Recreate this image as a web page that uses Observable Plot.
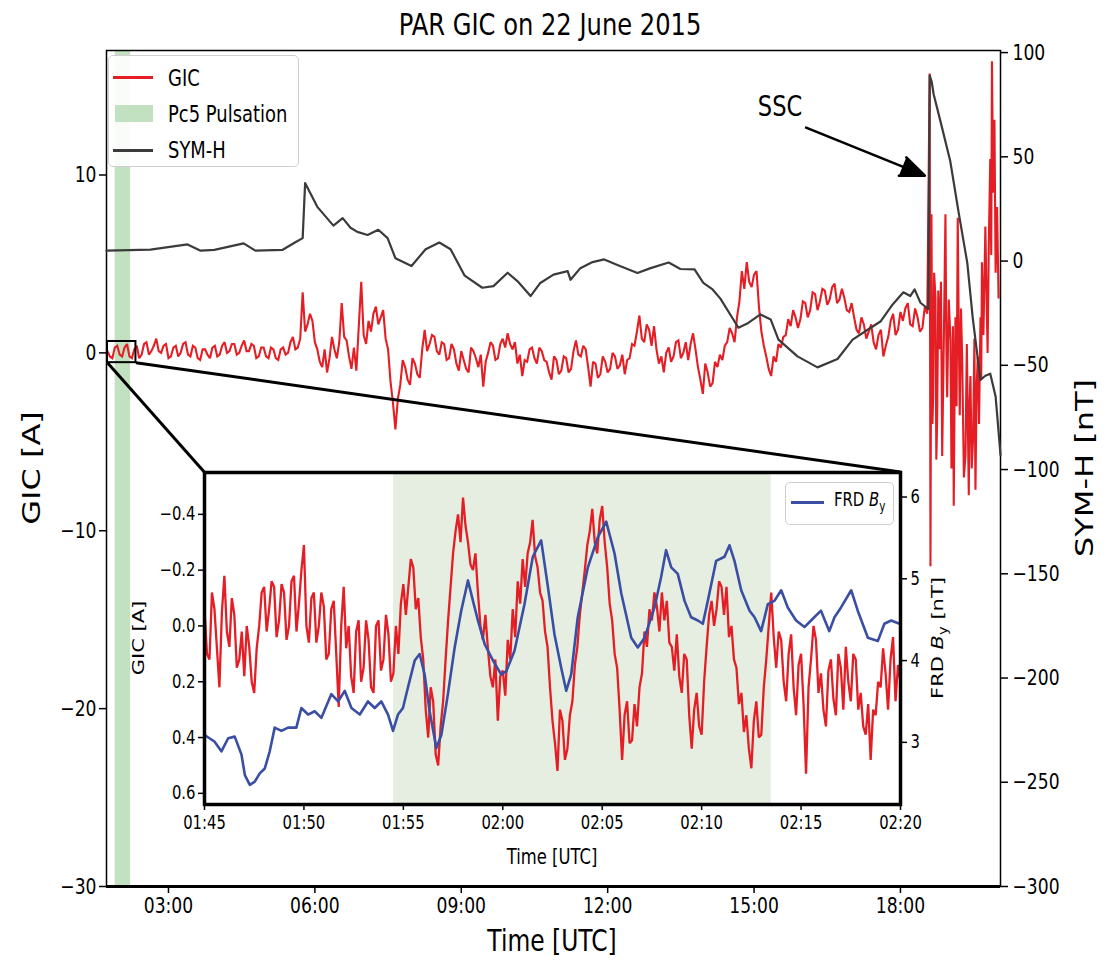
<!DOCTYPE html>
<html><head><meta charset="utf-8">
<script src="https://cdn.jsdelivr.net/npm/d3@7"></script>
<script src="https://cdn.jsdelivr.net/npm/@observablehq/plot@0.6"></script>
<style>
body{margin:0;background:#fff;font-family:"DejaVu Sans",sans-serif;}
#wrap{position:relative;width:1115px;height:962px;overflow:hidden;background:#fff;}
#wrap svg{position:absolute;}
.lbl{position:absolute;white-space:nowrap;color:#000;line-height:1;}
.box{position:absolute;background:rgba(255,255,255,0.9);border:1px solid #cfcfcf;border-radius:5px;}
.sw{position:absolute;}
</style></head><body><div id="wrap"></div>
<script>
// ---------------- DATA ----------------
// Main panel: GIC [A], sampled every 0.05 h from 01:45 to 18:33
const gicStartHour = 1.75;
const gicStepHour = 0.05;
const gicValues = [
  0.1,-0.2,-0.3,0.3,0.4,-0.1,-0.2,0.3,0.5,-0.2,-0.3,0.2,0.4,-0.3,-0.1,0.5,0.6,-0.1,0.1,0.4,
  0.8,0.1,0.0,0.4,0.5,-0.3,-0.2,0.3,0.4,-0.2,0.0,0.5,0.6,-0.1,-0.2,0.4,0.3,-0.3,-0.4,0.2,
  0.2,-0.1,-0.3,0.3,0.4,-0.2,-0.1,0.4,0.6,0.0,0.1,0.5,0.5,-0.1,0.0,0.4,0.7,0.1,0.1,0.5,
  0.4,-0.3,-0.2,0.3,0.3,-0.2,-0.3,0.3,0.2,-0.3,-0.4,0.2,0.3,-0.1,0.0,0.6,0.9,0.2,0.3,0.8,
  3.4,1.2,1.6,2.2,1.8,0.6,0.2,-0.5,-0.8,0.2,-1.1,-0.3,0.9,0.2,-0.3,0.6,2.8,0.9,0.7,-0.2,
  -0.9,0.3,-1.0,1.5,4.0,1.0,0.5,1.8,1.2,2.2,2.6,1.6,2.0,2.4,0.8,0.2,-1.6,-2.8,-4.3,-2.6,
  -1.8,-0.4,-0.8,-1.5,-1.8,-0.3,-0.6,-1.2,-1.4,0.2,1.3,0.1,0.5,1.0,0.9,0.1,-0.1,0.6,0.5,-0.4,
  -0.3,0.5,0.2,-0.6,-1.0,0.1,-0.4,-0.9,-1.1,0.3,0.1,-0.3,-0.8,-0.1,-1.9,-0.5,0.0,0.6,0.4,-0.4,
  -0.3,0.5,0.8,0.3,1.1,0.5,0.2,0.6,-0.6,-0.1,-1.3,-0.4,-0.5,0.2,0.3,-0.3,-0.6,0.3,0.1,-0.4,
  -0.5,-1.1,-1.5,-0.2,-0.4,-1.2,-1.0,-0.2,-0.3,-1.1,-0.9,0.1,0.7,-0.1,-0.2,0.4,0.2,-0.8,-1.9,-0.5,
  -0.6,-1.4,-1.2,-0.2,-0.5,-1.1,-0.9,0.0,-0.2,-0.9,-0.7,-0.1,-1.2,-0.4,-0.3,0.5,0.4,1.2,2.1,0.8,
  0.6,1.6,1.3,0.4,1.5,0.2,-0.6,-0.2,-1.1,0.0,0.3,-0.5,-0.2,0.6,0.7,-0.3,0.0,0.6,-0.4,0.5,
  1.1,0.2,-0.8,-1.5,-2.3,-0.6,-1.1,-1.9,-1.7,-0.5,-0.8,-0.1,-0.4,0.4,0.6,1.4,1.1,0.6,2.0,2.9,
  4.6,3.6,5.1,4.0,3.7,4.4,4.6,2.6,1.2,0.4,-0.2,-0.9,-1.3,-0.2,-0.5,0.5,0.3,0.9,1.0,1.9,
  1.5,2.4,2.0,1.4,1.9,2.9,2.8,2.0,2.4,3.4,3.3,2.4,2.9,3.6,3.5,2.7,3.0,3.7,3.9,2.8,
  3.0,3.6,3.1,2.4,2.3,2.8,2.0,1.3,1.1,2.0,1.6,0.8,1.2,1.6,0.6,0.2,1.0,1.3,-0.2,0.4,
  0.9,1.8,2.2,1.0,1.3,2.3,1.8,2.5,2.8,1.6,1.5,2.5,2.0,1.2,1.4,2.6,2.2
];
// Storm (after SSC) GIC, hours and A
const stormHours = [18.598,18.615,18.635,18.655,18.67,18.69,18.717,18.735,18.752,18.775,18.80,18.83,18.855,18.89,18.922,18.94,18.957,18.99,19.025,19.045,19.06,19.075,19.092,19.11,19.127,19.15,19.174,19.195,19.215,19.24,19.264,19.30,19.332,19.36,19.40,19.415,19.434,19.46,19.49,19.515,19.537,19.56,19.584,19.61,19.64,19.655,19.67,19.70,19.74,19.765,19.786,19.81,19.84,19.86,19.875,19.90,19.926,19.95,19.98,20.01];
const stormGic   = [15.7,-12.0,7.8,-4.0,-2.5,4.5,3.1,-6.0,-3.8,3.5,0.2,4.0,-5.8,1.0,7.8,0.5,-2.5,3.0,0.7,-6.5,-4.7,1.5,-8.6,-2.0,2.0,-3.0,7.6,1.0,-3.5,2.5,-0.2,-7.0,-5.8,0.5,-8.0,-3.0,-1.3,-6.5,-4.7,0.8,-7.7,-2.0,-0.2,-4.0,2.0,-1.5,5.1,1.0,7.1,3.0,0.0,6.0,10.9,5.5,16.4,9.0,13.1,4.5,8.2,3.1];
// SYM-H [nT]
const symhHours = [1.73,2.63,3.39,3.66,3.94,4.54,4.78,5.34,5.60,5.75,5.80,6.05,6.38,6.57,6.73,6.87,7.08,7.30,7.49,7.65,7.98,8.27,8.55,8.78,9.07,9.43,9.66,9.95,10.15,10.42,10.62,10.89,11.18,11.24,11.44,11.69,11.93,12.20,12.61,12.88,13.25,13.49,13.78,13.96,14.15,14.31,14.68,14.86,15.13,15.34,15.50,15.89,16.30,16.71,17.02,17.39,17.59,17.84,18.06,18.20,18.29,18.41,18.57,18.60,18.64,18.68,18.82,19.02,19.19,19.37,19.48,19.58,19.64,19.74,19.84,19.95,20.05];
const symhValues = [5,5.5,8,5,5.4,8.5,5,5.4,9,11,37.4,26,17,20.6,16,14,12.5,15,11,1.4,-2.4,5.7,8.9,5.7,-7,-12.8,-12,-5.6,-9.6,-16.8,-10.5,-6.5,-4.8,-9,-3.4,-0.5,0.8,-1.9,-5.7,-3.4,-0.7,-3.8,-4,-10.5,-13.6,-18,-32,-30,-25.6,-28,-37.7,-45.7,-51,-47,-37.7,-32,-29,-20.8,-15,-16.8,-13.6,-20,-23,89,86,80,67,48,23.6,-1,-27,-46,-57,-55,-54,-65,-93];
// Inset: GIC [A] every 0.125 min from 01:45
const insetStepMin = 0.125;
const insetGic = [
  -0.06,0.10,0.12,-0.12,-0.06,0.08,0.22,-0.05,-0.18,0.02,0.075,-0.10,-0.04,0.15,0.12,0.02,0.18,0.0,0.075,0.2,
  0.24,0.08,0.0,-0.12,-0.14,0.02,-0.06,-0.16,-0.14,0.04,-0.02,-0.15,-0.12,0.05,0.0,-0.16,-0.18,0.02,-0.08,-0.2,
  -0.29,0.0,0.06,-0.1,-0.12,0.06,0.0,-0.12,-0.07,0.12,0.1,-0.06,-0.09,0.1,0.29,0.0,-0.14,0.08,0.0,0.18,
  0.24,0.02,-0.02,0.2,0.15,-0.02,0.05,0.22,0.24,0.0,-0.02,0.16,0.12,-0.04,0.03,0.2,0.17,0.0,0.1,-0.08,
  -0.15,-0.04,-0.14,-0.24,-0.21,-0.06,-0.1,0.04,0.12,0.30,0.40,0.22,0.27,0.46,0.50,0.36,0.27,0.12,-0.02,-0.14,
  -0.26,-0.34,-0.40,-0.30,-0.46,-0.36,-0.30,-0.22,-0.20,-0.26,-0.12,0.0,0.05,-0.04,0.08,0.18,0.22,0.12,0.34,0.18,
  0.16,0.25,0.05,0.12,-0.06,0.04,-0.16,-0.08,-0.24,-0.14,-0.26,-0.30,-0.38,-0.25,-0.21,-0.12,-0.09,0.02,0.075,0.22,
  0.34,0.42,0.52,0.30,0.34,0.48,0.44,0.32,0.27,0.14,0.075,-0.04,-0.12,-0.2,-0.29,-0.34,-0.42,-0.30,-0.26,-0.38,
  -0.43,-0.30,-0.21,-0.08,-0.02,0.1,0.15,0.30,0.48,0.32,0.27,0.42,0.41,0.28,0.36,0.22,0.17,0.02,0.075,-0.06,
  -0.02,-0.12,-0.07,0.02,-0.12,-0.02,-0.09,0.06,0.075,0.16,0.03,0.18,0.24,0.10,0.12,0.32,0.44,0.30,0.24,0.36,
  0.39,0.20,0.075,-0.04,-0.09,0.0,-0.06,-0.16,-0.14,-0.04,-0.14,0.04,0.0,0.12,0.15,0.28,0.24,0.38,0.32,0.44,
  0.51,0.34,0.27,0.40,0.39,0.22,0.12,0.0,-0.12,0.04,0.15,0.02,0.05,0.20,0.27,0.10,0.03,0.22,0.32,0.14,
  0.1,0.28,0.53,0.22,0.12,0.0,0.05,0.24,0.17,0.30,0.36,0.16,0.12,0.26,0.32,0.10,0.15,0.30,0.075,0.20,
  0.27,0.10,0.12,0.30,0.24,0.36,0.39,0.28,0.48,0.30,0.32,0.20,0.22,0.08,0.17,0.30,0.12,0.04,0.27,0.14,
  0.2
];
// Inset: FRD By [nT], minutes after 01:45
const byMinutes = [0,0.5,0.85,1.19,1.52,1.86,2.03,2.28,2.53,2.78,3.03,3.28,3.53,3.87,4.20,4.62,4.87,5.21,5.54,5.88,6.38,6.72,7.05,7.39,7.81,8.22,8.56,8.89,9.23,9.48,9.73,9.98,10.23,10.57,10.82,11.07,11.32,11.66,11.91,12.24,12.58,12.91,13.25,13.50,13.75,14.09,14.51,14.92,15.18,15.59,16.09,16.51,16.93,17.27,17.60,17.94,18.19,18.44,18.77,19.28,19.78,20.20,20.62,20.96,21.46,21.79,22.13,22.63,22.96,23.21,23.47,23.80,24.14,24.47,24.81,25.06,25.31,25.73,26.15,26.40,26.65,26.99,27.41,27.66,27.99,28.33,28.66,29.00,29.33,29.75,30.17,30.50,31.00,31.42,31.68,32.01,32.52,32.85,33.36,33.86,34.19,34.53,34.95];
const byValues = [3.09,3.01,2.89,3.05,3.07,2.85,2.60,2.48,2.52,2.62,2.68,2.89,3.18,3.14,3.18,3.18,3.42,3.34,3.38,3.30,3.59,3.50,3.63,3.42,3.34,3.50,3.42,3.50,3.34,3.14,3.34,3.42,3.67,4.0,4.08,3.83,3.38,2.93,3.09,3.59,4.16,4.61,4.98,4.73,4.49,4.20,4.0,3.83,3.87,4.12,4.69,5.27,5.47,4.90,4.32,3.91,3.63,3.83,4.53,5.14,5.51,5.70,5.31,4.82,4.28,4.16,4.28,4.65,5.02,5.35,5.14,5.06,4.73,4.53,4.49,4.45,4.73,5.22,5.27,5.41,5.22,4.86,4.61,4.53,4.36,4.69,4.73,4.86,4.65,4.49,4.41,4.49,4.61,4.36,4.53,4.65,4.86,4.61,4.28,4.24,4.45,4.49,4.45];

const pc5Window = ["01:54:30", "02:13:30"];
const mainTimeDomain = ["01:43:48", "20:03:00"];
const gicDomain = [-30, 17];
const symDomain = [-300, 101];
const byDomain = [2.24, 6.30];
const zoomWindow = {start: "01:45", end: "02:20", gicLow: -0.55, gicHigh: 0.64};
const insetFrame = {t1: "03:44", t2: "18:00", gicTop: -6.7, gicBottom: -25.35}; // inset placement in main-panel coordinates
const gicTicks = [-30, -20, -10, 0, 10];
const symTicks = [-300, -250, -200, -150, -100, -50, 0, 50, 100];
const timeTicks = ["03:00", "06:00", "09:00", "12:00", "15:00", "18:00"];
const insetTimeTicks = ["01:45", "01:50", "01:55", "02:00", "02:05", "02:10", "02:15", "02:20"];
const insetGicTicks = [-0.4, -0.2, 0.0, 0.2, 0.4, 0.6];
const byTicks = [3, 4, 5, 6];
const ssc = {label: "SSC", textT: "15:32", textV: 74, fromT: "16:04", fromV: 64, toT: "18:30", toV: 41};

// ---------------- DRAW ----------------
const wrap = document.getElementById("wrap");
const day = Date.UTC(2015, 5, 22);
const toH = s => { const p = s.split(":").map(Number); return p[0] + p[1] / 60 + (p[2] || 0) / 3600; };
const T = h => new Date(day + Math.round(h * 3600e3));
const TS = s => T(toH(s));
const SQ = 0.78;

const gicSeries = gicValues.map((v, i) => ({t: T(gicStartHour + i * gicStepHour), v}))
  .concat(stormHours.map((h, i) => ({t: T(h), v: stormGic[i]})));
const symSeries = symhHours.map((h, i) => ({t: T(h), v: symhValues[i]}));
const insetStartH = toH(insetTimeTicks[0]);
const insetGicSeries = insetGic.map((v, i) => ({t: T(insetStartH + i * insetStepMin / 60), v}));
const bySeries = byMinutes.map((m, i) => ({t: T(insetStartH + m / 60), v: byValues[i]}));
const band = [{x1: TS(pc5Window[0]), x2: TS(pc5Window[1])}];
const connectors = [
  {x1: TS(zoomWindow.start), y1: zoomWindow.gicLow, x2: TS(insetFrame.t1), y2: insetFrame.gicTop},
  {x1: TS(zoomWindow.end), y1: zoomWindow.gicLow, x2: TS(insetFrame.t2), y2: insetFrame.gicTop}
];

const W = 1115, H = 962;
const font = "'DejaVu Sans', sans-serif";
const base = {width: W, height: H, marginTop: 50, marginRight: 115, marginBottom: 76, marginLeft: 106,
  style: {fontFamily: font, fontSize: "22px", background: "transparent", overflow: "visible", left: "0px", top: "0px", maxWidth: "none"}};
const fmtTime = d3.utcFormat("%H:%M");
const mainDomain = mainTimeDomain.map(TS);

const main = Plot.plot({...base, x: {type: "utc", domain: mainDomain}, y: {domain: gicDomain},
  marks: [
    Plot.rect(band, {x1: "x1", x2: "x2", fill: "#c2e1c1"}),
    Plot.line(gicSeries, {x: "t", y: "v", stroke: "#e41e24", strokeWidth: 2.1, strokeLinejoin: "miter", strokeMiterlimit: 2}),
    Plot.rect([zoomWindow], {x1: d => TS(d.start), x2: d => TS(d.end), y1: "gicLow", y2: "gicHigh", fill: "none", stroke: "black", strokeWidth: 2}),
    Plot.link(connectors, {x1: "x1", y1: "y1", x2: "x2", y2: "y2", stroke: "black", strokeWidth: 3}),
    Plot.frame({stroke: "black", strokeWidth: 1.5}),
    Plot.ruleY([gicDomain[0]], {stroke: "black", strokeWidth: 3}),
    Plot.axisY({ticks: gicTicks, tickFormat: d3.format("d"), tickSize: 7, tickPadding: 3, label: null, fontSize: 22, strokeWidth: 1.5}),
    Plot.axisX({ticks: timeTicks.map(TS), tickFormat: fmtTime, tickSize: 7, tickPadding: 4, label: null, fontSize: 22, strokeWidth: 1.5})
  ]});
wrap.appendChild(main);

const sym = Plot.plot({...base, x: {type: "utc", domain: mainDomain, axis: null}, y: {domain: symDomain},
  marks: [
    Plot.line(symSeries, {x: "t", y: "v", stroke: "#3b3b3b", strokeWidth: 2.2}),
    Plot.axisY({anchor: "right", ticks: symTicks, tickFormat: d3.format("d"), tickSize: 7, tickPadding: 5, label: null, fontSize: 22, strokeWidth: 1.5}),
    Plot.arrow([ssc], {x1: d => TS(d.fromT), y1: "fromV", x2: d => TS(d.toT), y2: "toV", stroke: "black", fill: "black", strokeWidth: 2.6, headLength: 15, headAngle: 45}),
    Plot.text([ssc], {x: d => TS(d.textT), y: "textV", text: "label", fontSize: 29})
  ]});
wrap.appendChild(sym);

// inset placed from the main panel's scales
const sx = main.scale("x"), sy = main.scale("y");
const iL = sx.apply(TS(insetFrame.t1)), iR = sx.apply(TS(insetFrame.t2));
const iT = sy.apply(insetFrame.gicTop), iB = sy.apply(insetFrame.gicBottom);
const IM = {top: 14, right: 90, bottom: 80, left: 90};
const ibase = {
  width: Math.round(iR - iL + IM.left + IM.right), height: Math.round(iB - iT + IM.top + IM.bottom),
  marginTop: IM.top, marginRight: IM.right, marginBottom: IM.bottom, marginLeft: IM.left,
  style: {fontFamily: font, fontSize: "19px", background: "transparent", overflow: "visible",
    left: Math.round(iL - IM.left) + "px", top: Math.round(iT - IM.top) + "px", maxWidth: "none"}
};
const insetDomain = [TS(zoomWindow.start), TS(zoomWindow.end)];
const insetA = Plot.plot({...ibase, x: {type: "utc", domain: insetDomain}, y: {domain: [zoomWindow.gicLow, zoomWindow.gicHigh], reverse: true},
  marks: [
    Plot.frame({fill: "white", stroke: "none"}),
    Plot.rect(band, {x1: "x1", x2: "x2", fill: "#e5eee1"}),
    Plot.line(insetGicSeries, {x: "t", y: "v", stroke: "#e41e24", strokeWidth: 2.3, strokeLinejoin: "miter", strokeMiterlimit: 2}),
    Plot.axisY({ticks: insetGicTicks, tickFormat: d3.format(".1f"), tickSize: 6, tickPadding: 3, label: null, fontSize: 19, strokeWidth: 1.5}),
    Plot.axisX({ticks: insetTimeTicks.map(TS), tickFormat: fmtTime, tickSize: 6, tickPadding: 5, label: null, fontSize: 19, strokeWidth: 1.5})
  ]});
wrap.appendChild(insetA);
const insetB = Plot.plot({...ibase, x: {type: "utc", domain: insetDomain, axis: null}, y: {domain: byDomain},
  marks: [
    Plot.line(bySeries, {x: "t", y: "v", stroke: "#3a4ea3", strokeWidth: 2.6}),
    Plot.axisY({anchor: "right", ticks: byTicks, tickFormat: d3.format("d"), tickSize: 6, tickPadding: 4, label: null, fontSize: 19, strokeWidth: 1.5}),
    Plot.frame({stroke: "black", strokeWidth: 3.5})
  ]});
wrap.appendChild(insetB);

// horizontal squeeze of svg text to match the reference's narrow lettering
for (const t of wrap.querySelectorAll("svg text")) {
  const w = t.getComputedTextLength();
  if (w > 0) { t.setAttribute("textLength", (w * SQ).toFixed(1)); t.setAttribute("lengthAdjust", "spacingAndGlyphs"); }
}

// labels
function label(html, x, y, size, opts = {}) {
  const d = document.createElement("div");
  d.className = "lbl"; d.innerHTML = html;
  d.style.left = x + "px"; d.style.top = y + "px"; d.style.fontSize = size + "px";
  if (opts.rot) d.style.transform = `translate(-50%,-50%) rotate(-90deg) scaleY(${SQ})`;
  else if (opts.start) { d.style.transformOrigin = "0 50%"; d.style.transform = `translate(0,-50%) scaleX(${SQ})`; }
  else d.style.transform = `translate(-50%,-50%) scaleX(${SQ})`;
  wrap.appendChild(d);
  return d;
}
function block(cls, x, y, w, h, bg) {
  const d = document.createElement("div");
  d.className = cls; d.style.left = x + "px"; d.style.top = y + "px"; d.style.width = w + "px"; d.style.height = h + "px";
  if (bg) d.style.background = bg;
  wrap.appendChild(d);
  return d;
}
label("PAR GIC on 22 June 2015", 550, 24, 31);
label("GIC [A]", 31, 468, 32, {rot: true});
label("SYM-H [nT]", 1084, 468, 32, {rot: true});
label("Time [UTC]", 552, 941, 30);
label("GIC [A]", 139, 638, 21, {rot: true});
label("Time [UTC]", 552, 857, 21);
label("FRD <i>B</i><sub style='font-size:0.7em'>y</sub> [nT]", 939, 638, 21, {rot: true});

// main legend
block("box", 108, 55, 189, 110);
block("sw", 113, 76, 40, 3, "#e41e24");
block("sw", 115, 105, 38, 17, "#c2e1c1");
block("sw", 113, 149, 40, 3, "#3b3b3b");
label("GIC", 168, 78, 23, {start: true});
label("Pc5 Pulsation", 168, 114, 23, {start: true});
label("SYM-H", 168, 150, 23, {start: true});
// inset legend
block("box", 785, 482, 107, 41);
block("sw", 791, 501, 33, 3, "#3a4ea3");
label("FRD <i>B</i><sub style='font-size:0.7em'>y</sub>", 834, 502, 19, {start: true});
</script></body></html>
